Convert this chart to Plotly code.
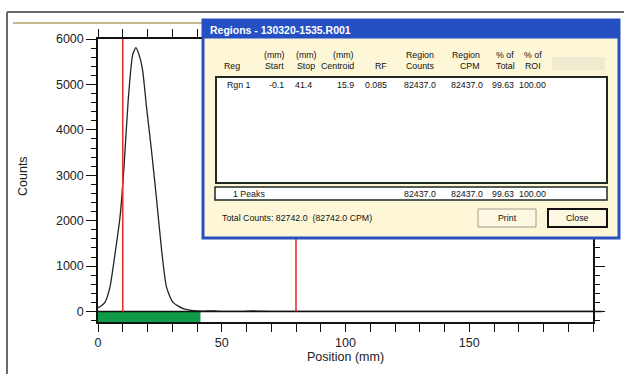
import plotly.graph_objects as go

# ---------------- data ----------------
position_mm = [0, 1.5, 2.8, 4.8, 6.9, 8.9, 10.5, 12.2, 14.0, 15.3, 16.6, 18.0, 19.6,
               21.6, 23.7, 25.7, 27.7, 30.3, 34.4, 38.4, 42, 46, 48, 52, 58, 63, 65, 70, 90, 130, 170, 200]
counts = [80, 130, 200, 530, 1280, 2080, 3180, 4650, 5650, 5810, 5650, 5320, 4500,
          3550, 2450, 1350, 530, 200, 65, 20, 8, 15, 10, 4, 3, 12, 6, 3, 2, 2, 2, 2]

marker_lines_mm = [10, 80]
region_start_mm = -0.1
region_stop_mm = 41.4

x_ticks = [0, 50, 100, 150]
y_ticks = [0, 1000, 2000, 3000, 4000, 5000, 6000]

# dialog table content
header_top = ["", "(mm)", "(mm)", "(mm)", "", "Region", "Region", "% of", "% of"]
header_bot = ["Reg", "Start", "Stop", "Centroid", "RF", "Counts", "CPM", "Total", "ROI"]
row_values = ["Rgn 1", "-0.1", "41.4", "15.9", "0.085", "82437.0", "82437.0", "99.63", "100.00"]
summary_values = ["1 Peaks", "", "", "", "", "82437.0", "82437.0", "99.63", "100.00"]
total_text = "Total Counts: 82742.0  (82742.0 CPM)"
dialog_title = "Regions - 130320-1535.R001"

# ---------------- geometry helpers (pixel -> paper) ----------------
W, H = 624, 374
L, R, T, B = 98, 593, 39, 322


def px(x):
    return (x - L) / (R - L)


def py(y):
    return (B - y) / (B - T)


fig = go.Figure()

fig.add_trace(go.Scatter(
    x=position_mm, y=counts, mode="lines",
    line=dict(color="#1b2626", width=1.3, shape="spline", smoothing=0.6),
    hoverinfo="skip", showlegend=False))

shapes = []
# green region bar
shapes.append(dict(type="rect", xref="x", yref="y", x0=region_start_mm, x1=region_stop_mm,
                   y0=-231, y1=0, fillcolor="#0e9a47", line=dict(width=0), layer="above"))
# zero line (extends a bit past right axis)
shapes.append(dict(type="line", xref="paper", yref="y", x0=0, x1=px(602), y0=0, y1=0,
                   line=dict(color="#111111", width=1.5), layer="above"))
# red marker lines
for m in marker_lines_mm:
    shapes.append(dict(type="line", xref="x", yref="y", x0=m, x1=m, y0=0, y1=6000,
                       line=dict(color="#e8302a", width=1.6), layer="above"))

# outer window frame
shapes.append(dict(type="line", xref="paper", yref="paper", x0=px(7), x1=px(640), y0=py(12), y1=py(12),
                   line=dict(color="#6b6b6b", width=2), layer="above"))
shapes.append(dict(type="line", xref="paper", yref="paper", x0=px(7), x1=px(7), y0=py(12), y1=py(390),
                   line=dict(color="#6b6b6b", width=2), layer="above"))
# olive strip line
shapes.append(dict(type="line", xref="paper", yref="paper", x0=px(13), x1=px(204), y0=py(23), y1=py(23),
                   line=dict(color="#c2b98f", width=2), layer="above"))


def rect(x0, y0, x1, y1, fill, lc=None, lw=0):
    shapes.append(dict(type="rect", xref="paper", yref="paper",
                       x0=px(x0), x1=px(x1), y0=py(y1), y1=py(y0),
                       fillcolor=fill, line=dict(color=lc or fill, width=lw), layer="above"))


# dialog
rect(203, 20, 619, 238, "#fdf7d8", "#2a4fbf", 3)
rect(203, 20, 619, 38, "#2450c4", "#2450c4", 1)
rect(552, 57, 605, 70, "#efead0")
rect(216, 77, 607, 183, "#ffffff", "#1f2a1f", 2)
rect(215, 187, 607, 200, "#ffffff", "#1f2a1f", 1.5)
rect(478, 209, 536, 227, "#fdf8e2", "#a09d8a", 1)
rect(548, 209, 607, 227, "#fdf8e2", "#111111", 2)

annotations = []
DFONT = "Liberation Sans, Arial, sans-serif"


def text(x, y, s, anchor="left", size=8.8, color="#111111", family=DFONT):
    annotations.append(dict(x=px(x), y=py(y), xref="paper", yref="paper", text=s,
                            showarrow=False, xanchor=anchor, yanchor="middle",
                            font=dict(family=family, size=size, color=color), borderpad=0))


text(209, 30, "<b>" + dialog_title + "</b>", size=10.5, color="#ffffff")

# column positions: (x, anchor)
header_pos = [(223, "left"), (274, "center"), (306, "center"), (355, "right"), (381, "center"),
              (420, "center"), (481, "right"), (505, "center"), (533, "center")]
value_pos = [(226, "left"), (285, "right"), (313, "right"), (355, "right"), (388, "right"),
             (437, "right"), (484, "right"), (515, "right"), (547, "right")]

for (x, a), s in zip(header_pos, header_top):
    if s:
        text(x, 55.5, s, a)
for (x, a), s in zip(header_pos, header_bot):
    text(x, 65.5, s, a)
for (x, a), s in zip(value_pos, row_values):
    text(x, 84.5, s, a)
for i, ((x, a), s) in enumerate(zip(value_pos, summary_values)):
    if s:
        text(232 if i == 0 else x, 193.5, s, a)
text(221, 218, total_text)
text(507, 218, "Print", "center")
text(577.5, 218, "Close", "center")

# axis title Counts
annotations.append(dict(x=px(23), y=py(176), xref="paper", yref="paper", text="Counts",
                        showarrow=False, textangle=-90, xanchor="center", yanchor="middle",
                        font=dict(family="Liberation Sans, Arial, sans-serif", size=12.5, color="#222222")))

AX = dict(showline=True, linecolor="#111111", linewidth=1.5, showgrid=False, zeroline=False,
          mirror="ticks", ticks="outside", tickcolor="#111111", tickwidth=1.3,
          tickfont=dict(family="Liberation Sans, Arial, sans-serif", size=12.5, color="#222222"))

fig.update_layout(
    width=W, height=H,
    margin=dict(l=L, r=W - R, t=T, b=H - B),
    paper_bgcolor="#ffffff", plot_bgcolor="#ffffff",
    shapes=shapes, annotations=annotations, showlegend=False,
    xaxis=dict(AX, range=[0, 200], tickvals=x_ticks, ticklen=8,
               minor=dict(dtick=10, ticklen=8, ticks="outside", tickcolor="#111111", tickwidth=1.3),
               title=dict(text="Position (mm)", standoff=2,
                          font=dict(family="Liberation Sans, Arial, sans-serif", size=12.5, color="#222222"))),
    yaxis=dict(AX, range=[-231, 6000], tickvals=y_ticks, ticklen=10,
               minor=dict(dtick=200, ticklen=5, ticks="outside", tickcolor="#111111", tickwidth=1.3)),
)

fig.write_html("out.html", config={"displayModeBar": False},
               post_script="document.body.style.margin='0';document.body.style.overflow='hidden';")
